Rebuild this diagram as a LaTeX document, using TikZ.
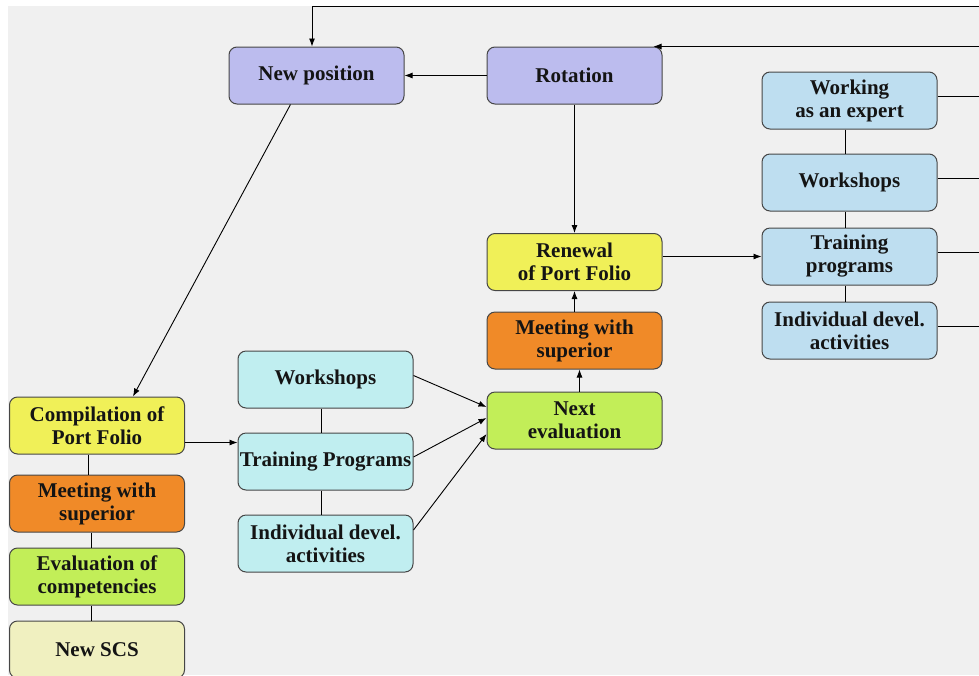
\documentclass[tikz,border=0pt]{standalone}
\usepackage{fontspec}
\setmainfont{Liberation Serif}
\usetikzlibrary{arrows.meta,calc}
\definecolor{bg}{RGB}{240,240,240}
\definecolor{purp}{RGB}{188,188,238}
\definecolor{lblue}{RGB}{190,222,240}
\definecolor{lcyan}{RGB}{192,238,240}
\definecolor{yel}{RGB}{240,240,88}
\definecolor{orng}{RGB}{240,138,40}
\definecolor{grn}{RGB}{194,238,88}
\definecolor{pale}{RGB}{240,240,192}
\definecolor{edge}{RGB}{70,70,70}
\begin{document}
\begin{tikzpicture}[x=1pt,y=-1pt,
  box/.style={draw=edge, line width=1pt, rounded corners=8pt,
    minimum width=175pt, minimum height=57pt, inner xsep=0pt, inner ysep=2pt,
    align=center, font=\fontsize{21}{23}\selectfont\bfseries, text=black!92},
  arr/.style={-{Latex[length=8pt,width=6pt]}, line width=0.9pt, black},
  ln/.style={line width=0.9pt, black}]
\useasboundingbox (0,0) rectangle (979,675);
\clip (0,0) rectangle (979,675);
\fill[bg] (8,6) rectangle (979,675);

% top row
\node[box, fill=purp] (np) at (316.5,75.5) {New position};
\node[box, fill=purp] (rot) at (574.5,75.5) {Rotation};

% right column
\node[box, fill=lblue] (wex) at (849.5,100.5) {Working\\as an expert};
\node[box, fill=lblue] (wsR) at (849.5,182.5) {Workshops};
\node[box, fill=lblue] (trR) at (849.5,256.5) {Training\\programs};
\node[box, fill=lblue] (indR) at (849.5,330.5) {Individual devel.\\activities};

% middle column
\node[box, fill=yel] (ren) at (574.5,262) {Renewal\\of Port Folio};
\node[box, fill=orng] (meetM) at (574.5,340.5) {Meeting with\\superior};
\node[box, fill=grn] (next) at (574.5,420.5) {Next\\evaluation};

% left column
\node[box, fill=yel] (comp) at (97,425.5) {Compilation of\\Port Folio};
\node[box, fill=orng] (meetL) at (97,503.5) {Meeting with\\superior};
\node[box, fill=grn] (evalc) at (97,576.5) {Evaluation of\\competencies};
\node[box, fill=pale] (nscs) at (97,649.5) {New SCS};

% centre-left column
\node[box, fill=lcyan] (wsM) at (325.5,379.5) {Workshops};
\node[box, fill=lcyan] (trM) at (325.5,461.5) {Training Programs};
\node[box, fill=lcyan] (indM) at (325.5,543.5) {Individual devel.\\activities};

% free ends at the right edge
\coordinate (t1) at (312,6);
\coordinate (t2) at (990,6);
\coordinate (r1) at ($(rot.north east)+(-9,0)$);
\coordinate (r2) at ($(r1)+(400,0)$);

% connectors
\draw[arr] (t2) -- (t1) -- (t1 |- np.north);
\draw[arr] (r2) -- (r1);
\draw[arr] (rot.west) -- (np.east);
\draw[arr] (rot.south) -- (ren.north);
\draw[arr] (ren.east |- trR.west) -- (trR.west);
\draw[arr] (meetM.north) -- (ren.south);
\draw[arr] ($(next.north)+(5,0)$) -- ($(meetM.south)+(5,0)$);

\foreach \n in {wex,wsR,trR,indR}{
  \coordinate (e\n) at ($(\n.east)+(0,-4.5)$);
  \draw[ln] (e\n) -- ++(60,0);
}
\draw[ln] ($(wex.south)+(-4.5,0)$) -- ($(wsR.north)+(-4.5,0)$);
\draw[ln] ($(wsR.south)+(-4.5,0)$) -- ($(trR.north)+(-4.5,0)$);
\draw[ln] ($(trR.south)+(-4.5,0)$) -- ($(indR.north)+(-4.5,0)$);

\draw[arr] ($(np.south)+(-26,0)$) -- ($(comp.north)+(36,0)$);
\coordinate (c1) at ($(comp.south east)+(0,-12)$);
\draw[arr] (c1) -- (c1 -| trM.west);

\draw[ln] ($(comp.south)+(-9,0)$) -- ($(meetL.north)+(-9,0)$);
\draw[ln] ($(meetL.south)+(-6,0)$) -- ($(evalc.north)+(-6,0)$);
\draw[ln] ($(evalc.south)+(-6,0)$) -- ($(nscs.north)+(-6,0)$);

\draw[ln] ($(wsM.south)+(-4.5,0)$) -- ($(trM.north)+(-4.5,0)$);
\draw[ln] ($(trM.south)+(-4.5,0)$) -- ($(indM.north)+(-4.5,0)$);

\draw[arr] ($(wsM.east)+(0,-4)$) -- ($(next.west)+(0,-13.5)$);
\draw[arr] ($(trM.east)+(0,-4.5)$) -- ($(next.west)+(0,-2.5)$);
\draw[arr] ($(indM.east)+(0,-13.5)$) -- ($(next.west)+(0,13.5)$);
\end{tikzpicture}
\end{document}
